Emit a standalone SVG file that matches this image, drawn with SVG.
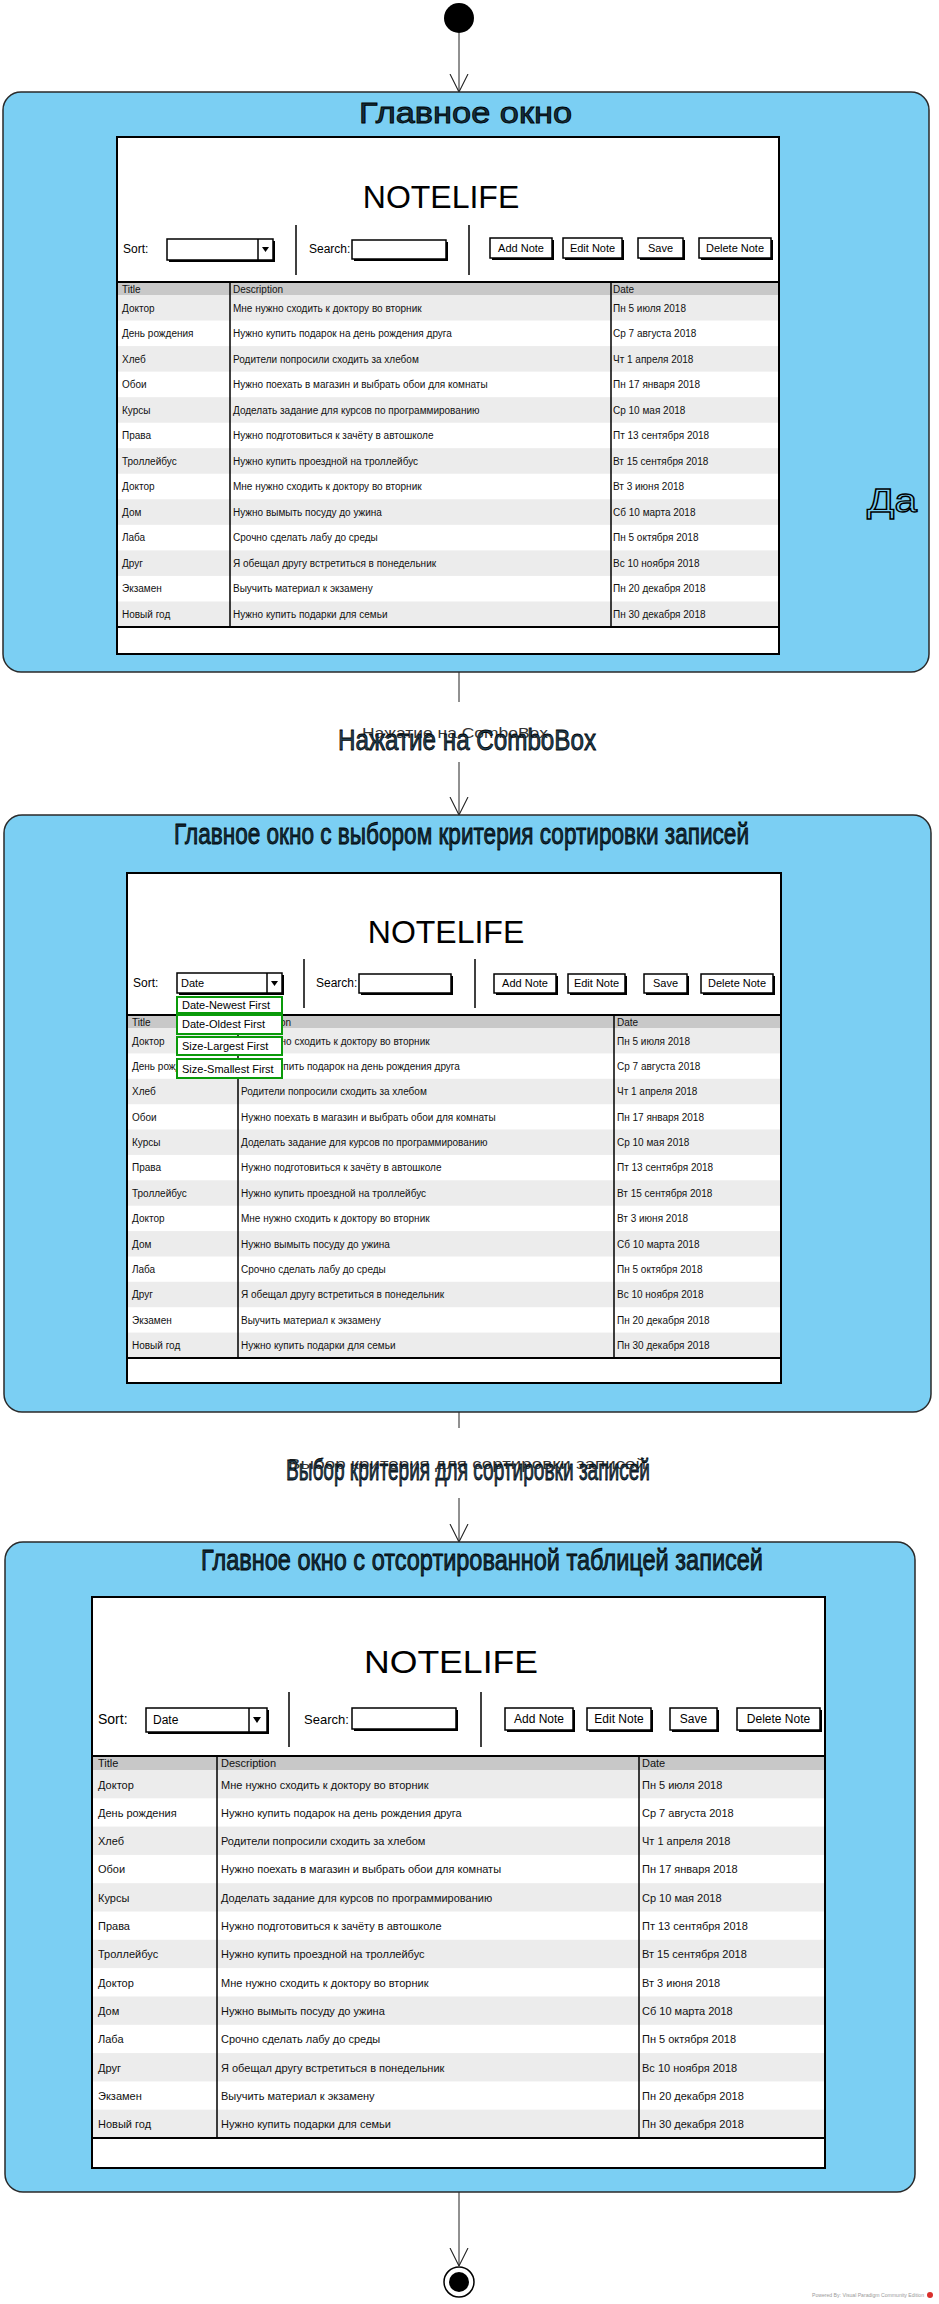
<svg xmlns="http://www.w3.org/2000/svg" width="939" height="2304" viewBox="0 0 939 2304">
<style>
.state{fill:#7bcff3;stroke:#2a2a2a;stroke-width:1.5}
.win{fill:#fff;stroke:#000;stroke-width:2}
.winshadow{fill:#000}
.stitle{font-family:"Liberation Sans",Arial,sans-serif;font-size:29px;fill:#12303f;stroke:#000;stroke-width:0.8}
.logo{font-family:"Liberation Sans",Arial,sans-serif;font-size:32px;fill:#000;text-anchor:middle}
.lbl{font-family:"Liberation Sans",Arial,sans-serif;font-size:12px;fill:#000}
.box{fill:#fff;stroke:#000;stroke-width:1.5}
.sh{fill:#000}
.btxt{font-family:"Liberation Sans",Arial,sans-serif;font-size:11px;fill:#000;text-anchor:middle}
.sep{stroke:#000;stroke-width:1.5;fill:none}
.hdr{fill:#c8c8c8}
.alt{fill:#ececec}
.cell{font-family:"Liberation Sans",Arial,sans-serif;font-size:10px;fill:#111}
.cell3{font-family:"Liberation Sans",Arial,sans-serif;font-size:11px;fill:#111}
.tline{stroke:#000;stroke-width:1.5}
.tborder{fill:none;stroke:#000;stroke-width:2}
.green{fill:#fff;stroke:#0a9a0a;stroke-width:2}
.conn{stroke:#222;stroke-width:1;fill:none}
.clbl{font-family:"Liberation Sans",Arial,sans-serif;font-size:30px;fill:#1e3f55;stroke:#000;stroke-width:0.8}
.clbls{font-family:"Liberation Sans",Arial,sans-serif;font-size:14px;fill:#333}
</style>
<defs>
<marker id="open" viewBox="0 0 20 20" refX="20" refY="10" markerUnits="userSpaceOnUse" markerWidth="18" markerHeight="20" orient="auto">
<path d="M0,0 L20,10 L0,20" fill="none" stroke="#222" stroke-width="1.2"/>
</marker>
</defs>

<g id="connectors">
<line class="conn" x1="459" y1="33" x2="459" y2="92" marker-end="url(#open)"/>
<line class="conn" x1="459" y1="672" x2="459" y2="702"/>
<line class="conn" x1="459" y1="762" x2="459" y2="815" marker-end="url(#open)"/>
<text class="clbls" x="362" y="738" textLength="186" lengthAdjust="spacingAndGlyphs">Нажатие на ComboBox</text>
<text class="clbl" x="338" y="750" textLength="258" lengthAdjust="spacingAndGlyphs">Нажатие на ComboBox</text>
<line class="conn" x1="459" y1="1412" x2="459" y2="1428"/>
<line class="conn" x1="459" y1="1498" x2="459" y2="1542" marker-end="url(#open)"/>
<text class="clbls" x="288" y="1469" textLength="358" lengthAdjust="spacingAndGlyphs">Выбор критерия для сортировки записей</text>
<text class="clbl" x="286" y="1480" textLength="364" lengthAdjust="spacingAndGlyphs">Выбор критерия для сортировки записей</text>
<line class="conn" x1="459" y1="2192" x2="459" y2="2266" marker-end="url(#open)"/>
</g>

<g id="start">
<circle cx="459" cy="18" r="15" fill="#000"/>
</g>

<g id="state1">
<rect class="state" x="3" y="92" width="926" height="580" rx="18"/>
<text class="stitle" x="359" y="123" textLength="213" lengthAdjust="spacingAndGlyphs">Главное окно</text>
<text x="867" y="512" font-family="Liberation Sans, Arial, sans-serif" font-size="34" fill="none" stroke="#000" stroke-width="1.3" textLength="50" lengthAdjust="spacingAndGlyphs">Да</text>
<rect class="win" x="117" y="137" width="662" height="517"/>
<text class="logo" x="441" y="208">NOTELIFE</text>
<text class="lbl" x="123" y="253">Sort:</text>
<rect class="sh" x="169" y="241" width="106" height="21"/>
<rect class="box" x="167" y="239" width="106" height="21"/>
<line class="sep" x1="258" y1="239" x2="258" y2="260"/>
<polygon points="262,247 269,247 265.5,252" fill="#000"/>
<line class="sep" x1="296" y1="225" x2="296" y2="275"/>
<text class="lbl" x="309" y="253">Search:</text>
<rect class="sh" x="354" y="242" width="94" height="19"/>
<rect class="box" x="352" y="240" width="94" height="19"/>
<line class="sep" x1="469" y1="225" x2="469" y2="275"/>
<rect class="sh" x="492" y="240" width="62" height="20"/><rect class="box" x="490" y="238" width="62" height="20"/><text class="btxt" x="521" y="252">Add Note</text>
<rect class="sh" x="565" y="240" width="59" height="20"/><rect class="box" x="563" y="238" width="59" height="20"/><text class="btxt" x="592.5" y="252">Edit Note</text>
<rect class="sh" x="640" y="240" width="45" height="20"/><rect class="box" x="638" y="238" width="45" height="20"/><text class="btxt" x="660.5" y="252">Save</text>
<rect class="sh" x="701" y="240" width="72" height="20"/><rect class="box" x="699" y="238" width="72" height="20"/><text class="btxt" x="735" y="252">Delete Note</text>
<rect class="hdr" x="117" y="282" width="662" height="13"/>
<rect class="alt" x="117" y="295" width="662" height="25.5"/>
<rect class="alt" x="117" y="346.1" width="662" height="25.5"/>
<rect class="alt" x="117" y="397.2" width="662" height="25.5"/>
<rect class="alt" x="117" y="448.2" width="662" height="25.5"/>
<rect class="alt" x="117" y="499.3" width="662" height="25.5"/>
<rect class="alt" x="117" y="550.4" width="662" height="25.5"/>
<rect class="alt" x="117" y="601.5" width="662" height="25.5"/>
<line class="tline" x1="230" y1="282" x2="230" y2="627"/>
<line class="tline" x1="611" y1="282" x2="611" y2="627"/>
<rect class="tborder" x="117" y="282" width="662" height="345"/>
<text class="cell" x="122" y="293">Title</text><text class="cell" x="233" y="293">Description</text><text class="cell" x="613" y="293">Date</text>
<text class="cell" x="122" y="311.5">Доктор</text><text class="cell" x="233" y="311.5">Мне нужно сходить к доктору во вторник</text><text class="cell" x="613" y="311.5">Пн 5 июля 2018</text>
<text class="cell" x="122" y="337">День рождения</text><text class="cell" x="233" y="337">Нужно купить подарок на день рождения друга</text><text class="cell" x="613" y="337">Ср 7 августа 2018</text>
<text class="cell" x="122" y="362.6">Хлеб</text><text class="cell" x="233" y="362.6">Родители попросили сходить за хлебом</text><text class="cell" x="613" y="362.6">Чт 1 апреля 2018</text>
<text class="cell" x="122" y="388.1">Обои</text><text class="cell" x="233" y="388.1">Нужно поехать в магазин и выбрать обои для комнаты</text><text class="cell" x="613" y="388.1">Пн 17 января 2018</text>
<text class="cell" x="122" y="413.7">Курсы</text><text class="cell" x="233" y="413.7">Доделать задание для курсов по программированию</text><text class="cell" x="613" y="413.7">Ср 10 мая 2018</text>
<text class="cell" x="122" y="439.2">Права</text><text class="cell" x="233" y="439.2">Нужно подготовиться к зачёту в автошколе</text><text class="cell" x="613" y="439.2">Пт 13 сентября 2018</text>
<text class="cell" x="122" y="464.7">Троллейбус</text><text class="cell" x="233" y="464.7">Нужно купить проездной на троллейбус</text><text class="cell" x="613" y="464.7">Вт 15 сентября 2018</text>
<text class="cell" x="122" y="490.3">Доктор</text><text class="cell" x="233" y="490.3">Мне нужно сходить к доктору во вторник</text><text class="cell" x="613" y="490.3">Вт 3 июня 2018</text>
<text class="cell" x="122" y="515.8">Дом</text><text class="cell" x="233" y="515.8">Нужно вымыть посуду до ужина</text><text class="cell" x="613" y="515.8">Сб 10 марта 2018</text>
<text class="cell" x="122" y="541.4">Лаба</text><text class="cell" x="233" y="541.4">Срочно сделать лабу до среды</text><text class="cell" x="613" y="541.4">Пн 5 октября 2018</text>
<text class="cell" x="122" y="566.9">Друг</text><text class="cell" x="233" y="566.9">Я обещал другу встретиться в понедельник</text><text class="cell" x="613" y="566.9">Вс 10 ноября 2018</text>
<text class="cell" x="122" y="592.4">Экзамен</text><text class="cell" x="233" y="592.4">Выучить материал к экзамену</text><text class="cell" x="613" y="592.4">Пн 20 декабря 2018</text>
<text class="cell" x="122" y="618">Новый год</text><text class="cell" x="233" y="618">Нужно купить подарки для семьи</text><text class="cell" x="613" y="618">Пн 30 декабря 2018</text>
</g>

<g id="state2">
<rect class="state" x="4" y="815" width="927" height="597" rx="18"/>
<text class="stitle" x="174" y="844" textLength="575" lengthAdjust="spacingAndGlyphs">Главное окно с выбором критерия сортировки записей</text>
<rect class="win" x="127" y="873" width="654" height="510"/>
<text class="logo" x="446" y="943">NOTELIFE</text>
<text class="lbl" x="133" y="987">Sort:</text>
<rect class="sh" x="179" y="975" width="105" height="20"/>
<rect class="box" x="177" y="973" width="105" height="20"/>
<text class="btxt" x="181" y="987" text-anchor="start" style="text-anchor:start">Date</text>
<line class="sep" x1="267" y1="973" x2="267" y2="993"/>
<polygon points="271,981 278,981 274.5,986" fill="#000"/>
<line class="sep" x1="304" y1="959" x2="304" y2="1008"/>
<text class="lbl" x="316" y="987">Search:</text>
<rect class="sh" x="361" y="976" width="92" height="19"/>
<rect class="box" x="359" y="974" width="92" height="19"/>
<line class="sep" x1="475" y1="959" x2="475" y2="1008"/>
<rect class="sh" x="496" y="976" width="62" height="19"/><rect class="box" x="494" y="974" width="62" height="19"/><text class="btxt" x="525" y="987">Add Note</text>
<rect class="sh" x="570" y="976" width="57" height="19"/><rect class="box" x="568" y="974" width="57" height="19"/><text class="btxt" x="596.5" y="987">Edit Note</text>
<rect class="sh" x="646" y="976" width="43" height="19"/><rect class="box" x="644" y="974" width="43" height="19"/><text class="btxt" x="665.5" y="987">Save</text>
<rect class="sh" x="703" y="976" width="72" height="19"/><rect class="box" x="701" y="974" width="72" height="19"/><text class="btxt" x="737" y="987">Delete Note</text>
<rect class="hdr" x="127" y="1015" width="654" height="13"/>
<rect class="alt" x="127" y="1028" width="654" height="25.4"/>
<rect class="alt" x="127" y="1078.8" width="654" height="25.4"/>
<rect class="alt" x="127" y="1129.5" width="654" height="25.4"/>
<rect class="alt" x="127" y="1180.3" width="654" height="25.4"/>
<rect class="alt" x="127" y="1231.1" width="654" height="25.4"/>
<rect class="alt" x="127" y="1281.8" width="654" height="25.4"/>
<rect class="alt" x="127" y="1332.6" width="654" height="25.4"/>
<line class="tline" x1="238" y1="1015" x2="238" y2="1358"/>
<line class="tline" x1="614" y1="1015" x2="614" y2="1358"/>
<rect class="tborder" x="127" y="1015" width="654" height="343"/>
<text class="cell" x="132" y="1026">Title</text><text class="cell" x="241" y="1026">Description</text><text class="cell" x="617" y="1026">Date</text>
<text class="cell" x="132" y="1044.5">Доктор</text><text class="cell" x="241" y="1044.5">Мне нужно сходить к доктору во вторник</text><text class="cell" x="617" y="1044.5">Пн 5 июля 2018</text>
<text class="cell" x="132" y="1069.9">День рождения</text><text class="cell" x="241" y="1069.9">Нужно купить подарок на день рождения друга</text><text class="cell" x="617" y="1069.9">Ср 7 августа 2018</text>
<text class="cell" x="132" y="1095.3">Хлеб</text><text class="cell" x="241" y="1095.3">Родители попросили сходить за хлебом</text><text class="cell" x="617" y="1095.3">Чт 1 апреля 2018</text>
<text class="cell" x="132" y="1120.6">Обои</text><text class="cell" x="241" y="1120.6">Нужно поехать в магазин и выбрать обои для комнаты</text><text class="cell" x="617" y="1120.6">Пн 17 января 2018</text>
<text class="cell" x="132" y="1146">Курсы</text><text class="cell" x="241" y="1146">Доделать задание для курсов по программированию</text><text class="cell" x="617" y="1146">Ср 10 мая 2018</text>
<text class="cell" x="132" y="1171.4">Права</text><text class="cell" x="241" y="1171.4">Нужно подготовиться к зачёту в автошколе</text><text class="cell" x="617" y="1171.4">Пт 13 сентября 2018</text>
<text class="cell" x="132" y="1196.8">Троллейбус</text><text class="cell" x="241" y="1196.8">Нужно купить проездной на троллейбус</text><text class="cell" x="617" y="1196.8">Вт 15 сентября 2018</text>
<text class="cell" x="132" y="1222.2">Доктор</text><text class="cell" x="241" y="1222.2">Мне нужно сходить к доктору во вторник</text><text class="cell" x="617" y="1222.2">Вт 3 июня 2018</text>
<text class="cell" x="132" y="1247.6">Дом</text><text class="cell" x="241" y="1247.6">Нужно вымыть посуду до ужина</text><text class="cell" x="617" y="1247.6">Сб 10 марта 2018</text>
<text class="cell" x="132" y="1272.9">Лаба</text><text class="cell" x="241" y="1272.9">Срочно сделать лабу до среды</text><text class="cell" x="617" y="1272.9">Пн 5 октября 2018</text>
<text class="cell" x="132" y="1298.3">Друг</text><text class="cell" x="241" y="1298.3">Я обещал другу встретиться в понедельник</text><text class="cell" x="617" y="1298.3">Вс 10 ноября 2018</text>
<text class="cell" x="132" y="1323.7">Экзамен</text><text class="cell" x="241" y="1323.7">Выучить материал к экзамену</text><text class="cell" x="617" y="1323.7">Пн 20 декабря 2018</text>
<text class="cell" x="132" y="1349.1">Новый год</text><text class="cell" x="241" y="1349.1">Нужно купить подарки для семьи</text><text class="cell" x="617" y="1349.1">Пн 30 декабря 2018</text>
<rect class="green" x="177" y="997" width="105" height="16"/><text class="btxt" style="text-anchor:start" x="182" y="1009">Date-Newest First</text>
<rect class="green" x="177" y="1015" width="105" height="19"/><text class="btxt" style="text-anchor:start" x="182" y="1028">Date-Oldest First</text>
<rect class="green" x="177" y="1037" width="105" height="18"/><text class="btxt" style="text-anchor:start" x="182" y="1050">Size-Largest First</text>
<rect class="green" x="177" y="1059" width="105" height="19"/><text class="btxt" style="text-anchor:start" x="182" y="1073">Size-Smallest First</text>
</g>

<g id="state3">
<rect class="state" x="5" y="1542" width="910" height="650" rx="18"/>
<text class="stitle" x="201" y="1570" textLength="562" lengthAdjust="spacingAndGlyphs">Главное окно с отсортированной таблицей записей</text>
<rect class="win" x="92" y="1597" width="733" height="571"/>
<text class="logo" x="451" y="1673" textLength="174" lengthAdjust="spacingAndGlyphs">NOTELIFE</text>
<text class="lbl" x="98" y="1724" style="font-size:14px">Sort:</text>
<rect class="sh" x="148" y="1710" width="121" height="24"/>
<rect class="box" x="146" y="1708" width="121" height="24"/>
<text class="btxt" style="text-anchor:start;font-size:12px" x="153" y="1724">Date</text>
<line class="sep" x1="249" y1="1708" x2="249" y2="1732"/>
<polygon points="253,1717 261,1717 257,1723" fill="#000"/>
<line class="sep" x1="289" y1="1692" x2="289" y2="1747"/>
<text class="lbl" x="304" y="1724" style="font-size:13px">Search:</text>
<rect class="sh" x="354" y="1710" width="104" height="21"/>
<rect class="box" x="352" y="1708" width="104" height="21"/>
<line class="sep" x1="481" y1="1692" x2="481" y2="1747"/>
<rect class="sh" x="507" y="1710" width="68" height="22"/><rect class="box" x="505" y="1708" width="68" height="22"/><text class="btxt" style="font-size:12px" x="539" y="1723">Add Note</text>
<rect class="sh" x="589" y="1710" width="64" height="22"/><rect class="box" x="587" y="1708" width="64" height="22"/><text class="btxt" style="font-size:12px" x="619" y="1723">Edit Note</text>
<rect class="sh" x="672" y="1710" width="47" height="22"/><rect class="box" x="670" y="1708" width="47" height="22"/><text class="btxt" style="font-size:12px" x="693.5" y="1723">Save</text>
<rect class="sh" x="739" y="1710" width="83" height="22"/><rect class="box" x="737" y="1708" width="83" height="22"/><text class="btxt" style="font-size:12px" x="778.5" y="1723">Delete Note</text>
<rect class="hdr" x="92" y="1756" width="733" height="14"/>
<rect class="alt" x="92" y="1770" width="733" height="28.3"/>
<rect class="alt" x="92" y="1826.6" width="733" height="28.3"/>
<rect class="alt" x="92" y="1883.2" width="733" height="28.3"/>
<rect class="alt" x="92" y="1939.8" width="733" height="28.3"/>
<rect class="alt" x="92" y="1996.5" width="733" height="28.3"/>
<rect class="alt" x="92" y="2053.1" width="733" height="28.3"/>
<rect class="alt" x="92" y="2109.7" width="733" height="28.3"/>
<line class="tline" x1="217" y1="1756" x2="217" y2="2138"/>
<line class="tline" x1="639" y1="1756" x2="639" y2="2138"/>
<rect class="tborder" x="92" y="1756" width="733" height="382"/>
<text class="cell3" x="98" y="1767">Title</text><text class="cell3" x="221" y="1767">Description</text><text class="cell3" x="642" y="1767">Date</text>
<text class="cell3" x="98" y="1788.5">Доктор</text><text class="cell3" x="221" y="1788.5">Мне нужно сходить к доктору во вторник</text><text class="cell3" x="642" y="1788.5">Пн 5 июля 2018</text>
<text class="cell3" x="98" y="1816.8">День рождения</text><text class="cell3" x="221" y="1816.8">Нужно купить подарок на день рождения друга</text><text class="cell3" x="642" y="1816.8">Ср 7 августа 2018</text>
<text class="cell3" x="98" y="1845.1">Хлеб</text><text class="cell3" x="221" y="1845.1">Родители попросили сходить за хлебом</text><text class="cell3" x="642" y="1845.1">Чт 1 апреля 2018</text>
<text class="cell3" x="98" y="1873.4">Обои</text><text class="cell3" x="221" y="1873.4">Нужно поехать в магазин и выбрать обои для комнаты</text><text class="cell3" x="642" y="1873.4">Пн 17 января 2018</text>
<text class="cell3" x="98" y="1901.7">Курсы</text><text class="cell3" x="221" y="1901.7">Доделать задание для курсов по программированию</text><text class="cell3" x="642" y="1901.7">Ср 10 мая 2018</text>
<text class="cell3" x="98" y="1930">Права</text><text class="cell3" x="221" y="1930">Нужно подготовиться к зачёту в автошколе</text><text class="cell3" x="642" y="1930">Пт 13 сентября 2018</text>
<text class="cell3" x="98" y="1958.3">Троллейбус</text><text class="cell3" x="221" y="1958.3">Нужно купить проездной на троллейбус</text><text class="cell3" x="642" y="1958.3">Вт 15 сентября 2018</text>
<text class="cell3" x="98" y="1986.7">Доктор</text><text class="cell3" x="221" y="1986.7">Мне нужно сходить к доктору во вторник</text><text class="cell3" x="642" y="1986.7">Вт 3 июня 2018</text>
<text class="cell3" x="98" y="2015">Дом</text><text class="cell3" x="221" y="2015">Нужно вымыть посуду до ужина</text><text class="cell3" x="642" y="2015">Сб 10 марта 2018</text>
<text class="cell3" x="98" y="2043.3">Лаба</text><text class="cell3" x="221" y="2043.3">Срочно сделать лабу до среды</text><text class="cell3" x="642" y="2043.3">Пн 5 октября 2018</text>
<text class="cell3" x="98" y="2071.6">Друг</text><text class="cell3" x="221" y="2071.6">Я обещал другу встретиться в понедельник</text><text class="cell3" x="642" y="2071.6">Вс 10 ноября 2018</text>
<text class="cell3" x="98" y="2099.9">Экзамен</text><text class="cell3" x="221" y="2099.9">Выучить материал к экзамену</text><text class="cell3" x="642" y="2099.9">Пн 20 декабря 2018</text>
<text class="cell3" x="98" y="2128.2">Новый год</text><text class="cell3" x="221" y="2128.2">Нужно купить подарки для семьи</text><text class="cell3" x="642" y="2128.2">Пн 30 декабря 2018</text>
</g>

<g id="end">
<circle cx="459" cy="2282" r="15" fill="#fff" stroke="#000" stroke-width="1.5"/>
<circle cx="459" cy="2282" r="10" fill="#000"/>
</g>

<g id="watermark">
<text x="812" y="2297" font-family="Liberation Sans, Arial, sans-serif" font-size="6" fill="#999" textLength="112" lengthAdjust="spacingAndGlyphs">Powered By: Visual Paradigm Community Edition</text>
<circle cx="930" cy="2295" r="3" fill="#d9302c"/>
</g>
</svg>
